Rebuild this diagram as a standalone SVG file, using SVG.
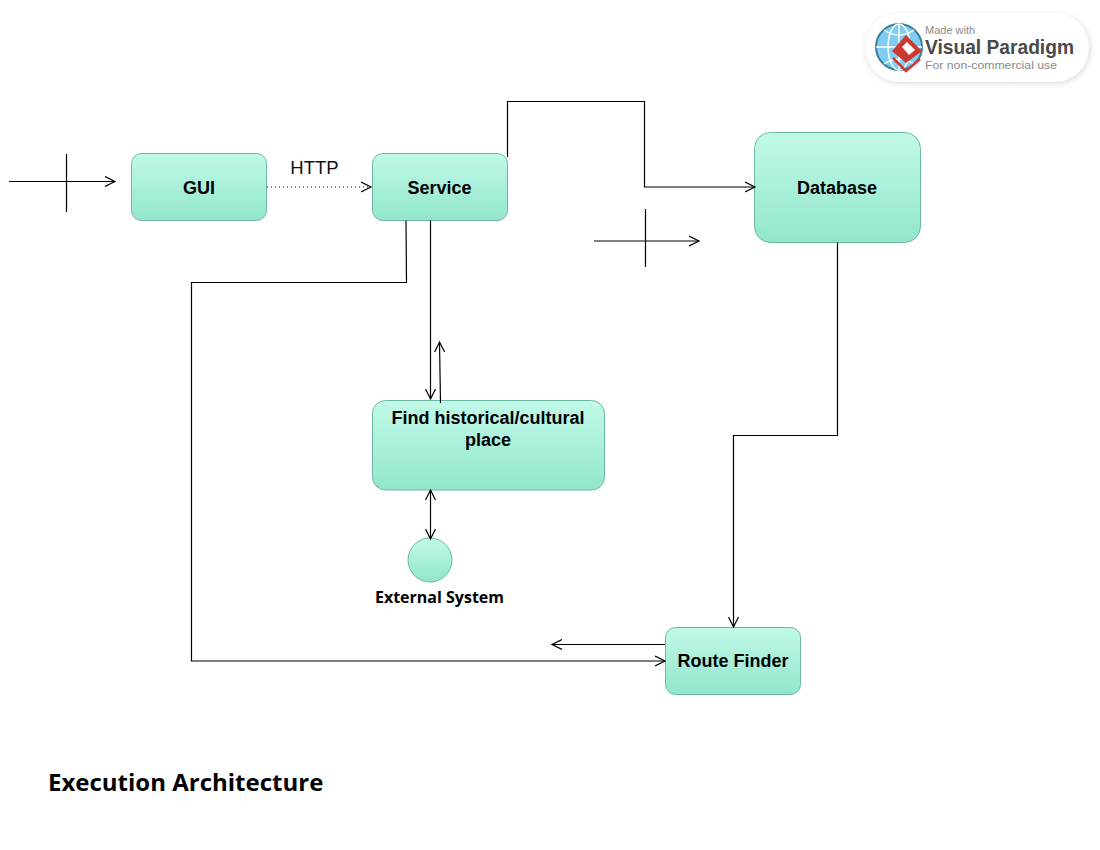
<svg xmlns="http://www.w3.org/2000/svg" width="1100" height="850" viewBox="0 0 1100 850">
<style>
.n{fill:url(#g);stroke:#6bb9a0;stroke-width:1}
.t{font-family:"Liberation Sans",Arial,sans-serif;font-weight:bold;font-size:18px;text-anchor:middle;fill:#000}
.c{fill:none;stroke:#000;stroke-width:1.2}
.o{font-family:"Open Sans",sans-serif;font-weight:bold;fill:#000}
.b{font-family:"Liberation Sans",Arial,sans-serif;fill:#8a8a8a;font-size:11px}
</style>
<defs>
<linearGradient id="g" x1="0" y1="0" x2="0" y2="1"><stop offset="0" stop-color="#c1f9e8"/><stop offset="1" stop-color="#92e6cd"/></linearGradient>
<marker id="a" viewBox="0 0 12 12" refX="10" refY="6" markerWidth="12" markerHeight="12" markerUnits="userSpaceOnUse" orient="auto-start-reverse"><path d="M0 1 L10 6 L0 11" fill="none" stroke="#000" stroke-width="1.2"/></marker>
<filter id="b" x="-20%" y="-30%" width="140%" height="160%"><feGaussianBlur stdDeviation="3"/></filter>
</defs>
<rect width="1100" height="850" fill="#fff"/>
<g id="gui"><rect class="n" x="131.500" y="153.500" width="135" height="67" rx="10"/><text class="t" x="199" y="193.500">GUI</text></g>
<g id="service"><rect class="n" x="372.500" y="153.500" width="135" height="67" rx="10"/><text class="t" x="439.500" y="193.500">Service</text></g>
<g id="database"><rect class="n" x="754.500" y="132.500" width="166" height="110" rx="16"/><text class="t" x="837" y="193.500">Database</text></g>
<g id="find"><rect class="n" x="372.500" y="400.500" width="232" height="89.500" rx="13"/><text class="t" x="488" y="423.500">Find historical/cultural</text><text class="t" x="488" y="446">place</text></g>
<g id="external"><circle class="n" cx="430" cy="560" r="22"/><text class="o" x="439.500" y="603" font-size="16" text-anchor="middle">External System</text></g>
<g id="route"><rect class="n" x="665.500" y="627.500" width="135" height="67" rx="10"/><text class="t" x="733" y="666.500">Route Finder</text></g>
<g id="connectors">
<path class="c" d="M9 181.500H115" marker-end="url(#a)"/>
<path class="c" d="M66.500 154V212"/>
<path class="c" d="M267 187H371" stroke-dasharray="1 3" marker-end="url(#a)"/>
<path class="c" d="M507.500 157V101.500H644.500V187H755" marker-end="url(#a)"/>
<path class="c" d="M594 241H699" marker-end="url(#a)"/>
<path class="c" d="M645.500 209V267"/>
<path class="c" d="M406 220.500L406.500 282.500H191.500V661H665" marker-end="url(#a)"/>
<path class="c" d="M430.500 220.500V399" marker-end="url(#a)"/>
<path class="c" d="M440.500 403L439.500 342" marker-end="url(#a)"/>
<path class="c" d="M430.500 490V539" marker-start="url(#a)" marker-end="url(#a)"/>
<path class="c" d="M837.500 242.500V435.500H733.500V627" marker-end="url(#a)"/>
<path class="c" d="M665 644.500H552" marker-end="url(#a)"/>
</g>
<text id="http" x="314.500" y="174" font-family="'Liberation Sans',Arial,sans-serif" font-size="18.500" text-anchor="middle" fill="#111">HTTP</text>
<text id="title" class="o" x="48" y="791" font-size="24">Execution Architecture</text>
<g id="badge">
<rect x="866" y="15" width="224" height="68" rx="34" fill="#000" opacity=".16" filter="url(#b)"/>
<rect x="865" y="13" width="224" height="69" rx="34" fill="#fff"/>
<circle cx="899" cy="47" r="23" fill="#7fcdf2" stroke="#3f7f98" stroke-width="2"/>
<path d="M876 47H922M899 24V70M884 30Q899 40 914 30M884 64Q899 54 914 64" fill="none" stroke="#fff" stroke-width="1.500"/>
<ellipse cx="899" cy="47" rx="11" ry="23" fill="none" stroke="#fff" stroke-width="1.500"/>
<path d="M906 35L922 51L906 63L892 51Z" fill="#cc3a32"/>
<path d="M902 47L907 42L915 50L909 55Z" fill="#fff"/>
<path d="M893 58L906 71L920 59" fill="none" stroke="#cc3a32" stroke-width="2.500"/>
<text class="b" x="925" y="34">Made with</text>
<text x="925" y="54" font-family="'Liberation Sans',Arial,sans-serif" font-size="20" font-weight="bold" fill="#4a4a4a" textLength="149" lengthAdjust="spacingAndGlyphs">Visual Paradigm</text>
<text class="b" x="925" y="69" textLength="132" lengthAdjust="spacingAndGlyphs">For non-commercial use</text>
</g>
</svg>
